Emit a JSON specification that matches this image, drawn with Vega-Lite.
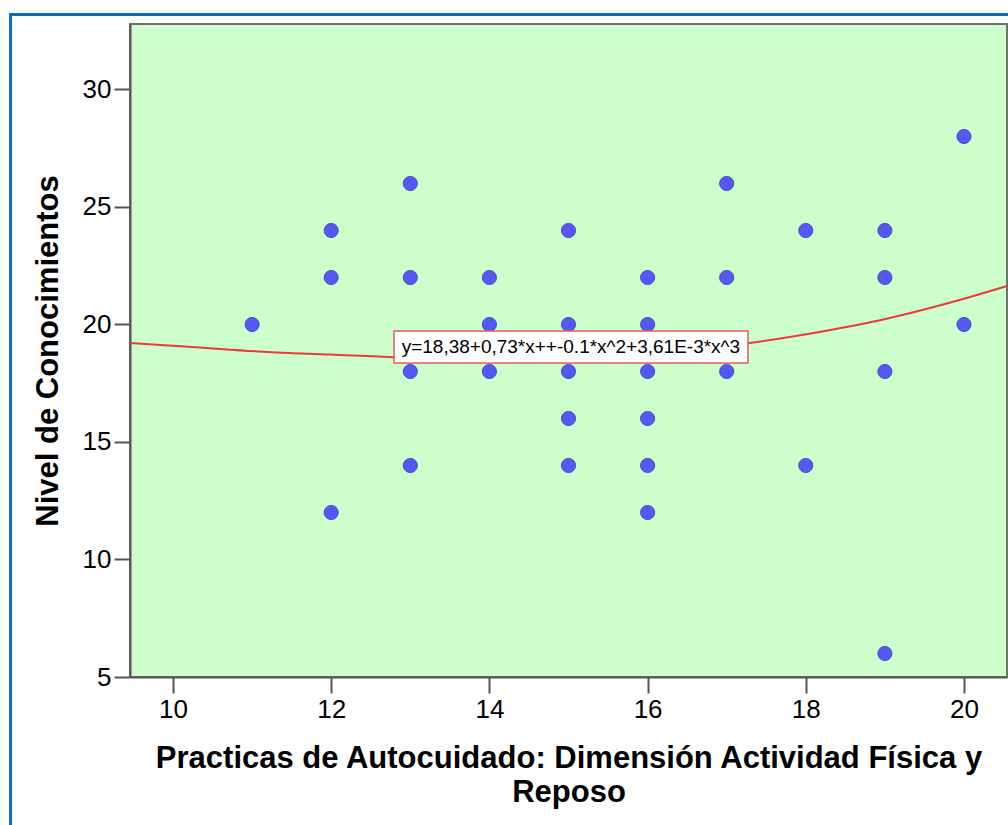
{
  "$schema": "https://vega.github.io/schema/vega-lite/v6.json",
  "width": 877,
  "height": 653,
  "padding": {"left": 130, "top": 24, "right": 1, "bottom": 148},
  "autosize": {"type": "none"},
  "background": "white",
  "config": {
    "font": "Liberation Sans",
    "view": {"fill": "#ccffcc", "stroke": "#707070", "strokeWidth": 2},
    "axis": {
      "grid": false,
      "domainColor": "#555555",
      "domainWidth": 2,
      "tickColor": "#555555",
      "tickWidth": 2,
      "tickSize": 16,
      "labelFont": "Liberation Sans",
      "labelFontSize": 26,
      "labelColor": "#000000",
      "labelPadding": 3,
      "titleFont": "Liberation Sans",
      "titleFontSize": 31,
      "titleFontWeight": "bold",
      "titleColor": "#000000"
    }
  },
  "datasets": {
    "puntos": [
      {"practicas": 11, "conocimientos": 20},
      {"practicas": 12, "conocimientos": 24},
      {"practicas": 12, "conocimientos": 22},
      {"practicas": 12, "conocimientos": 12},
      {"practicas": 13, "conocimientos": 26},
      {"practicas": 13, "conocimientos": 22},
      {"practicas": 13, "conocimientos": 18},
      {"practicas": 13, "conocimientos": 14},
      {"practicas": 14, "conocimientos": 22},
      {"practicas": 14, "conocimientos": 20},
      {"practicas": 14, "conocimientos": 18},
      {"practicas": 15, "conocimientos": 24},
      {"practicas": 15, "conocimientos": 20},
      {"practicas": 15, "conocimientos": 18},
      {"practicas": 15, "conocimientos": 16},
      {"practicas": 15, "conocimientos": 14},
      {"practicas": 16, "conocimientos": 22},
      {"practicas": 16, "conocimientos": 20},
      {"practicas": 16, "conocimientos": 18},
      {"practicas": 16, "conocimientos": 16},
      {"practicas": 16, "conocimientos": 14},
      {"practicas": 16, "conocimientos": 12},
      {"practicas": 17, "conocimientos": 26},
      {"practicas": 17, "conocimientos": 22},
      {"practicas": 17, "conocimientos": 18},
      {"practicas": 18, "conocimientos": 24},
      {"practicas": 18, "conocimientos": 14},
      {"practicas": 19, "conocimientos": 24},
      {"practicas": 19, "conocimientos": 22},
      {"practicas": 19, "conocimientos": 18},
      {"practicas": 19, "conocimientos": 6},
      {"practicas": 20, "conocimientos": 28},
      {"practicas": 20, "conocimientos": 20}
    ],
    "ajuste": [
      {"practicas": 9.456, "conocimientos": 19.21},
      {"practicas": 10.29, "conocimientos": 19.03},
      {"practicas": 11.14, "conocimientos": 18.84},
      {"practicas": 11.99, "conocimientos": 18.72},
      {"practicas": 12.83, "conocimientos": 18.6},
      {"practicas": 14.0, "conocimientos": 18.53},
      {"practicas": 15.0, "conocimientos": 18.58},
      {"practicas": 16.0, "conocimientos": 18.76},
      {"practicas": 17.26, "conocimientos": 19.2},
      {"practicas": 18.08, "conocimientos": 19.63},
      {"practicas": 18.91, "conocimientos": 20.16},
      {"practicas": 19.76, "conocimientos": 20.87},
      {"practicas": 20.544, "conocimientos": 21.64}
    ]
  },
  "layer": [
    {
      "data": {"name": "ajuste"},
      "mark": {"type": "line", "color": "#ec3b3b", "strokeWidth": 2, "interpolate": "monotone"},
      "encoding": {
        "x": {
          "field": "practicas",
          "type": "quantitative",
          "scale": {"domain": [9.456, 20.544], "nice": false, "zero": false},
          "axis": {
            "values": [10, 12, 14, 16, 18, 20],
            "format": "d",
            "title": ["Practicas de Autocuidado: Dimensión Actividad Física y", "Reposo"],
            "titleLineHeight": 34,
            "titlePadding": 21
          }
        },
        "y": {
          "field": "conocimientos",
          "type": "quantitative",
          "scale": {"domain": [5, 32.787], "nice": false, "zero": false},
          "axis": {
            "values": [5, 10, 15, 20, 25, 30],
            "format": "d",
            "title": "Nivel de Conocimientos",
            "titlePadding": 18
          }
        }
      }
    },
    {
      "data": {"name": "puntos"},
      "mark": {"type": "point", "filled": true, "size": 200, "color": "#5757f5", "stroke": "#4350b5", "strokeWidth": 1, "opacity": 1},
      "encoding": {
        "x": {"field": "practicas", "type": "quantitative"},
        "y": {"field": "conocimientos", "type": "quantitative"}
      }
    },
    {
      "data": {"values": [{"ecuacion": "y=18,38+0,73*x++-0.1*x^2+3,61E-3*x^3"}]},
      "mark": {"type": "rect", "fill": "white", "stroke": "#e85a5a", "strokeWidth": 1.5},
      "encoding": {
        "x": {"datum": 12.794, "type": "quantitative"},
        "x2": {"datum": 17.269},
        "y": {"datum": 19.72, "type": "quantitative"},
        "y2": {"datum": 18.36}
      }
    },
    {
      "data": {"values": [{"ecuacion": "y=18,38+0,73*x++-0.1*x^2+3,61E-3*x^3"}]},
      "mark": {"type": "text", "fontSize": 19, "font": "Liberation Sans", "color": "#000000", "align": "center", "baseline": "middle"},
      "encoding": {
        "x": {"datum": 15.03, "type": "quantitative"},
        "y": {"datum": 19.04, "type": "quantitative"},
        "text": {"field": "ecuacion"}
      }
    },
    {
      "data": {"values": [{"marco": "borde"}]},
      "mark": {"type": "rect", "fill": null, "stroke": "#0a6cbf", "strokeWidth": 3},
      "encoding": {
        "x": {"datum": 7.946, "type": "quantitative"},
        "x2": {"datum": 30},
        "y": {"datum": 33.19, "type": "quantitative"},
        "y2": {"datum": -2}
      }
    }
  ]
}
